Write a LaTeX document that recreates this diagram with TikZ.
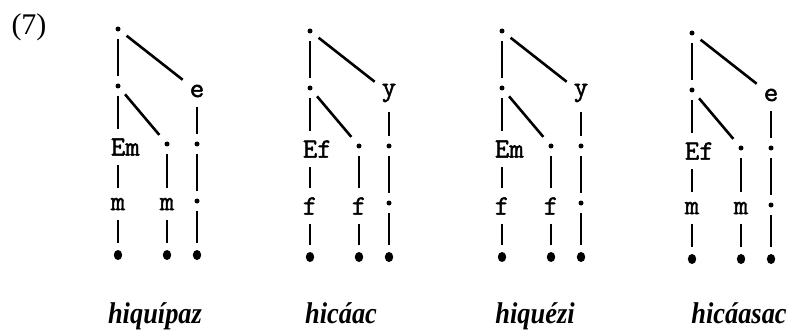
\documentclass[tikz,border=0pt]{standalone}
\usepackage{fontspec}
\setmainfont{Liberation Serif}
\newfontfamily\tagfont[FakeBold=1.6]{Latin Modern Mono}
\newfontfamily\glossfont[FakeStretch=0.88]{Liberation Serif}
\usetikzlibrary{shapes.geometric}

\begin{document}
\begin{tikzpicture}[x=0.5pt,y=-0.5pt,
  pt/.style={circle,fill,inner sep=0pt,minimum size=2.5pt},
  leaf/.style={ellipse,fill,inner sep=0pt,minimum width=4.2pt,minimum height=5pt},
  seg/.style={line width=0.85pt,shorten <=3.5pt,shorten >=3.5pt},
  slant/.style={line width=1.3pt,shorten <=4pt,shorten >=3pt},
  tag/.style={font=\tagfont\fontsize{14}{14}\selectfont,inner sep=1pt},
  word/.style={font=\glossfont\bfseries\itshape\fontsize{15}{15}\selectfont,inner sep=0pt,anchor=base}]
\useasboundingbox (0,0) rectangle (795,336);
\node[font=\fontsize{15}{15}\selectfont] (num) at (29,27) {(7)};

\foreach \i/\x/\dy/\lab/\ma/\mb/\rt/\w/\wx in
  {1/118/0/Em/m/m/e/hiquípaz/155, 2/310/2/Ef/f/f/y/hicáac/341,
   3/502/2/Em/f/f/y/hiquézi/535, 4/692/4/Ef/m/m/e/hicáasac/739}{
\begin{scope}[shift={(\x,\dy)}]
% left column
\node[pt] (a\i) at (0,29) {};
\node[pt] (b\i) at (0,86) {};
\node[tag,anchor=west] (e\i) at (-9.5,147) {\lab};
\node[tag] (m\i) at (0,204) {\ma};
\node[leaf] (x\i) at (0,255) {};
% middle column
\node[pt] (c\i) at (49,144) {};
\node[tag] (n\i) at (49,204) {\mb};
\node[leaf] (y\i) at (49,255) {};
% right column
\node[tag] (r\i) at (79,91) {\rt};
\node[pt] (d\i) at (79,144) {};
\node[pt] (g\i) at (79,201) {};
\node[leaf] (z\i) at (79,255) {};

\draw[seg] (a\i) -- (b\i);
\draw[slant] (a\i) -- (r\i);
\draw[slant,shorten >=4.5pt] (b\i) -- (c\i);
\draw[seg] (b\i) -- (b\i |- e\i.north);
\draw[seg] (b\i |- e\i.south) -- (m\i);
\draw[seg] (m\i) -- (x\i);
\draw[seg] (c\i) -- (n\i);
\draw[seg] (n\i) -- (y\i);
\draw[seg] (r\i) -- (d\i);
\draw[seg] (d\i) -- (g\i);
\draw[seg] (g\i) -- (z\i);
\end{scope}
% word under the tree
\node[word] (w\i) at (\wx,323) {\w};
}
\end{tikzpicture}
\end{document}
